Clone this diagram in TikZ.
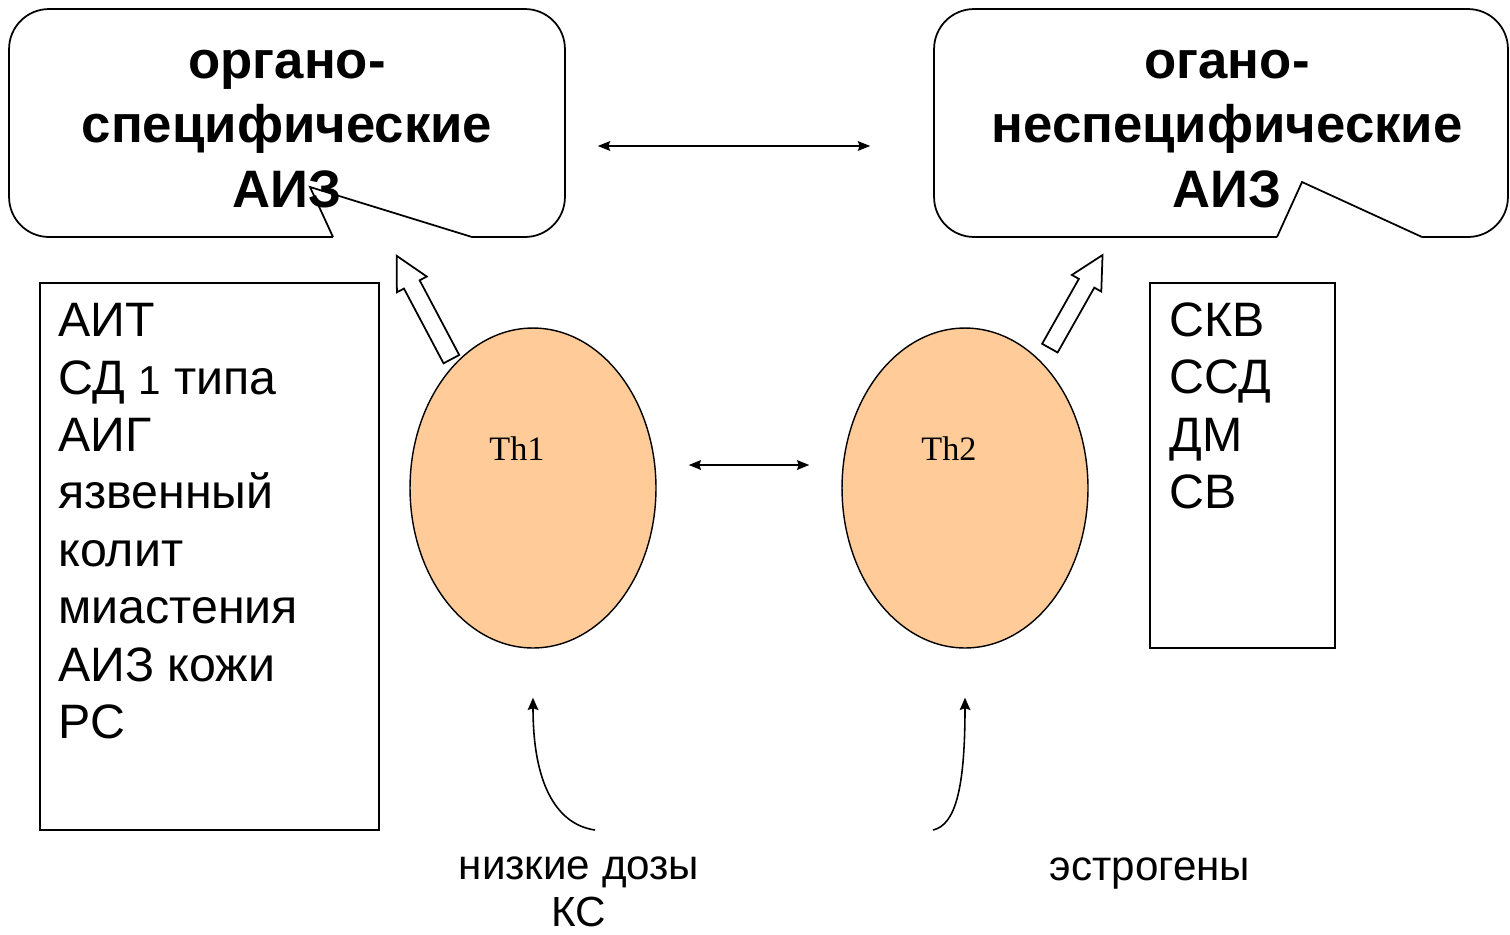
\documentclass[tikz,border=0pt]{standalone}
\usepackage{fontspec}
\setmainfont{Liberation Sans}
\newfontfamily\thfont{Liberation Serif}
\usetikzlibrary{arrows.meta,shapes.geometric,shapes.arrows}
\definecolor{peach}{RGB}{255,204,153}
\tikzstyle{bubble} = [draw, line width=1pt, rounded corners=0.8cm, inner sep=0pt]
\tikzstyle{tail} = [line width=1pt, line join=miter]
\tikzstyle{bubbletext} = [align=center, inner sep=0pt, font=\fontsize{30}{36.8}\selectfont\bfseries]
\tikzstyle{listbox} = [draw, line width=1pt, inner sep=0pt]
\tikzstyle{listtext} = [align=left, anchor=north west, inner sep=0pt, font=\fontsize{27.5}{32.7}\selectfont]
\tikzstyle{cell} = [ellipse, draw, fill=peach, line width=0.8pt, inner sep=0pt, minimum width=4.92cm, minimum height=6.4cm]
\tikzstyle{celltext} = [anchor=base, inner sep=0pt, font=\thfont\fontsize{19.5}{22}\selectfont]
\tikzstyle{dblarrow} = [line width=1pt, {Stealth[length=7pt,width=5.5pt,inset=1pt]}-{Stealth[length=7pt,width=5.5pt,inset=1pt]}]
\tikzstyle{hollow} = [single arrow, draw, fill=white, line width=1pt, inner sep=0.16cm, single arrow head extend=0.16cm, single arrow tip angle=55]
\tikzstyle{curvearrow} = [line width=0.9pt, -{Stealth[length=7pt,width=6pt,inset=1pt]}]
\tikzstyle{sidetext} = [align=center, inner sep=0pt, font=\fontsize{24}{26.6}\selectfont]

\begin{document}
\begin{tikzpicture}[x=0.02cm,y=-0.02cm]
    \useasboundingbox (0,0) rectangle (1510,934);
    % callouts
    \node[bubble, minimum width=11.12cm, minimum height=4.56cm] (specbox) at (287,123) {};
    \node[bubble, minimum width=11.48cm, minimum height=4.56cm] (nonspecbox) at (1221,123) {};
    \fill[white] (333,234) rectangle (472,240);
    \fill[white] (1277,234) rectangle (1422,240);
    \node[bubbletext] (spec) at (287,129) {органо-\\специфические\\АИЗ};
    \node[bubbletext] (nonspec) at (1227,129) {огано-\\неспецифические\\АИЗ};
    \draw[tail] (333,237) -- (310,187) -- (472,237);
    \draw[tail] (1277,237) -- (1302,182) -- (1422,237);
    \draw[dblarrow, shorten <=0.64cm, shorten >=1.26cm]
        ([yshift=-0.46cm]specbox.east) -- ([yshift=-0.46cm]nonspecbox.west);
    % lists
    \node[listbox, minimum width=6.78cm, minimum height=10.94cm] (orglist) at (209.5,556.5) {};
    \node[listtext] (orgitems) at (58,303) {АИТ\\СД {\fontsize{23}{32.7}\selectfont 1} типа\\АИГ\\язвенный\\колит\\миастения\\АИЗ кожи\\РС};
    \node[listbox, minimum width=3.7cm, minimum height=7.3cm] (nonorglist) at (1242.5,465.5) {};
    \node[listtext] (nonorgitems) at (1169,302) {СКВ\\ССД\\ДМ\\СВ};
    % hollow arrows
    \node[hollow, minimum height=2.34cm, rotate=117.9] (up1) at (428,315) {};
    \node[hollow, minimum height=2.14cm, rotate=60.5] (up2) at (1072,309) {};
    % cells
    \node[cell] (th1) at (533,488) {};
    \node[cell] (th2) at (965,488) {};
    \node[celltext] (th1lbl) at ([xshift=-0.32cm,yshift=0.56cm]th1.center) {Th1};
    \node[celltext] (th2lbl) at ([xshift=-0.32cm,yshift=0.56cm]th2.center) {Th2};
    \draw[dblarrow, shorten <=0.64cm, shorten >=0.64cm]
        ([yshift=0.46cm]th1.east) -- ([yshift=0.46cm]th2.west);
    % factors
    \node[sidetext] (lowdose) at (579,891.5) {низкие дозы\\КС};
    \node[sidetext, anchor=base] (estrogen) at (1150,880) {эстрогены};
    \coordinate (from1) at (595,830);
    \coordinate (from2) at (933,830);
    \draw[curvearrow] (from1) .. controls (560,825) and (533,790) .. ([yshift=-0.98cm]th1.south);
    \draw[curvearrow] (from2) .. controls (955,825) and (965,790) .. ([yshift=-0.98cm]th2.south);
\end{tikzpicture}
\end{document}
